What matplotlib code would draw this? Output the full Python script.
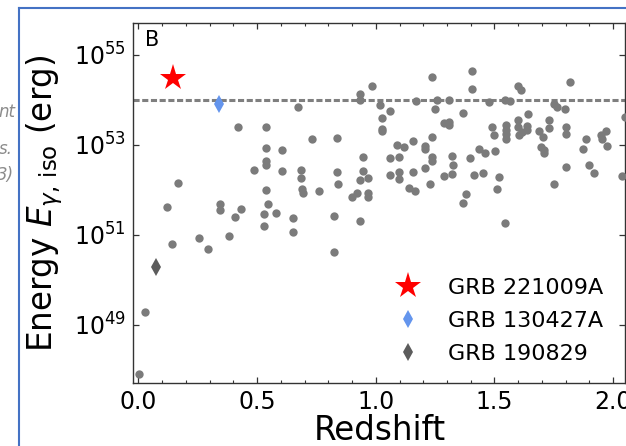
import matplotlib
matplotlib.use("Agg")
import matplotlib.pyplot as plt
from matplotlib.lines import Line2D
from matplotlib.ticker import MultipleLocator, NullLocator, FormatStrFormatter, LogFormatterSciNotation

# ---------------- data ----------------
redshift = [
    0.004, 0.028, 0.120, 0.142, 0.165, 0.253, 0.293, 0.342, 0.342, 0.380,
    0.407, 0.420, 0.434, 0.487, 0.527, 0.527, 0.536, 0.536, 0.536, 0.536,
    0.537, 0.544, 0.580, 0.604, 0.604, 0.651, 0.651, 0.674, 0.685, 0.685,
    0.689, 0.695, 0.733, 0.759, 0.824, 0.824, 0.837, 0.837, 0.842, 0.898,
    0.919, 0.935, 0.935, 0.935, 0.935, 0.945, 0.945, 0.968, 0.968, 0.968,
    0.982, 1.018, 1.027, 1.027, 1.027, 1.059, 1.060, 1.060, 1.091, 1.099,
    1.099, 1.099, 1.118, 1.140, 1.158, 1.158, 1.165, 1.168, 1.208, 1.208,
    1.209, 1.230, 1.238, 1.238, 1.238, 1.238, 1.249, 1.258, 1.289, 1.289,
    1.309, 1.310, 1.310, 1.319, 1.323, 1.327, 1.367, 1.369, 1.379, 1.398,
    1.407, 1.407, 1.415, 1.436, 1.450, 1.460, 1.478, 1.489, 1.496, 1.502,
    1.511, 1.519, 1.544, 1.544, 1.567, 1.548, 1.548, 1.548, 1.548, 1.599,
    1.610, 1.599, 1.599, 1.605, 1.618, 1.640, 1.639, 1.639, 1.689, 1.694,
    1.706, 1.710, 1.710, 1.729, 1.729, 1.751, 1.752, 1.765, 1.799, 1.801,
    1.801, 1.801, 1.820, 1.875, 1.884, 1.899, 1.919, 1.947, 1.968, 1.953,
    1.973, 2.037, 2.050,
]
energy_iso = [
    7.9e47, 1.9e49, 4.1e51, 6.2e50, 1.4e52, 8.5e50, 4.7e50, 4.7e51, 3.5e51, 9.5e50,
    2.4e51, 2.4e53, 3.6e51, 2.7e52, 2.9e51, 1.55e51, 2.4e53, 8.5e52, 4.2e52, 3.5e52,
    1.0e52, 4.7e51, 3.0e51, 7.4e52, 2.6e52, 2.3e51, 1.15e51, 6.8e53, 2.7e52, 1.8e52,
    1.05e52, 8.5e51, 1.3e53, 9.1e51, 2.6e51, 4.0e50, 1.4e53, 2.5e52, 1.3e52, 6.8e51,
    8.3e51, 1.3e54, 1.0e54, 1.6e52, 2.0e51, 5.4e52, 2.6e52, 1.8e52, 8.3e51, 6.8e51,
    2.0e54, 7.6e53, 3.8e53, 2.2e53, 2.0e53, 5.5e53, 4.9e52, 2.1e52, 9.8e52, 5.4e52,
    2.4e52, 1.7e52, 8.7e52, 1.1e52, 1.2e53, 2.5e52, 9.3e51, 9.1e53, 9.5e52, 8.1e52,
    3.0e52, 1.3e52, 3.2e54, 1.45e53, 5.4e52, 4.3e52, 6.3e53, 1.0e54, 3.0e53, 1.95e52,
    1.0e54, 3.2e53, 2.7e53, 2.2e52, 5.6e52, 3.5e52, 5.1e53, 4.9e51, 7.9e51, 4.9e52,
    4.3e54, 1.7e54, 2.1e52, 8.1e52, 2.3e52, 6.5e52, 8.9e53, 2.5e53, 1.6e53, 7.2e52,
    1.05e52, 1.9e52, 1.8e51, 1.0e54, 9.5e53, 2.7e53, 2.1e53, 1.7e53, 1.3e53, 2.0e54,
    1.6e54, 3.5e53, 2.4e53, 1.6e53, 1.9e53, 4.7e53, 2.6e53, 2.1e53, 2.0e53, 8.9e52,
    1.45e53, 7.4e52, 6.5e52, 3.5e53, 2.3e53, 1.3e52, 8.1e53, 6.8e53, 6.0e53, 2.4e53,
    1.7e53, 3.2e52, 2.4e54, 8.1e52, 1.3e53, 3.5e52, 2.3e52, 1.6e53, 2.0e53, 1.35e53,
    9.3e52, 2.0e52, 4.1e53,
]

highlight_names = ["GRB 221009A", "GRB 130427A", "GRB 190829"]
highlight_z = [0.146, 0.338, 0.073]
highlight_e = [3.0e54, 8.1e53, 1.9e50]

threshold_energy = 1.0e54

x_ticks = [0.0, 0.5, 1.0, 1.5, 2.0]
y_ticks = [1e49, 1e51, 1e53, 1e55]

# ---------------- figure ----------------
W, H = 626, 446
fig = plt.figure(figsize=(W / 100, H / 100), dpi=100)
fig.patch.set_facecolor("white")

ax_l, ax_r, ax_t, ax_b = 133, 625, 23, 383
ax = fig.add_axes([ax_l / W, 1 - ax_b / H, (ax_r - ax_l) / W, (ax_b - ax_t) / H])

grey = "#7b7b7b"
ax.plot(redshift, energy_iso, "o", color=grey, ms=6, mew=0, zorder=3)

ax.axhline(threshold_energy, color="#7f7f7f", lw=2.2, dashes=(2.0, 0.85), zorder=2)

styles = [
    dict(marker="*", color="red", ms=20),
    dict(marker="d", color="#6495ED", ms=9.2),
    dict(marker="d", color="#5c5c5c", ms=9.2),
]
for name, z, e, st in zip(highlight_names, highlight_z, highlight_e, styles):
    ax.plot([z], [e], ls="none", marker=st["marker"], color=st["color"],
            ms=st["ms"], mew=0, label=name, zorder=4)

ax.set_yscale("log")
ax.set_xlim(-0.023, 2.05)
ax.set_ylim(10 ** 47.7, 10 ** 55.7)

ax.set_xticks(x_ticks)
ax.xaxis.set_minor_locator(MultipleLocator(0.1))
ax.xaxis.set_major_formatter(FormatStrFormatter("%.1f"))
ax.set_yticks(y_ticks)
ax.yaxis.set_minor_locator(NullLocator())
ax.yaxis.set_major_formatter(LogFormatterSciNotation())

ax.tick_params(which="both", direction="in", top=True, right=True, colors="#333333",
               labelcolor="black", labelsize=17)
ax.tick_params(which="major", length=4, width=0.9)
ax.tick_params(which="minor", length=2, width=0.8)
ax.tick_params(axis="x", pad=5)
ax.tick_params(axis="y", pad=5)
for sp in ax.spines.values():
    sp.set_color("#333333")
    sp.set_linewidth(1.0)

ax.set_xlabel("Redshift", fontsize=23.5)
ax.xaxis.set_label_coords(0.502, -0.087)
ax.set_ylabel(r"Energy $E_{\gamma,\,\mathrm{iso}}$ (erg)", fontsize=23.5)
ax.yaxis.set_label_coords(-0.138, 0.5)

ax.text(0.024, 0.98, "B", transform=ax.transAxes, ha="left", va="top", fontsize=15)

ax.legend(loc="lower left", bbox_to_anchor=(0.474, -0.003), frameon=False, fontsize=16,
          labelspacing=0.59, handletextpad=0.8, handlelength=2.0, borderpad=0.4,
          numpoints=1)

# blue frame and caption fragments from the surrounding page
frame_col = "#4472C4"
fig.add_artist(Line2D([19 / W, 19 / W], [0, 1 - 8 / H], transform=fig.transFigure,
                      color=frame_col, lw=1.5))
fig.add_artist(Line2D([19 / W, 1], [1 - 8 / H, 1 - 8 / H], transform=fig.transFigure,
                      color=frame_col, lw=1.5))
for txt, xr, yc in [("nt", 15, 112), ("s.", 13, 149), ("3)", 14, 175)]:
    fig.text(xr / W, 1 - yc / H, txt, ha="right", va="center", style="italic",
             color="#8c8c8c", fontsize=12)

fig.savefig("out.png", dpi=100)
